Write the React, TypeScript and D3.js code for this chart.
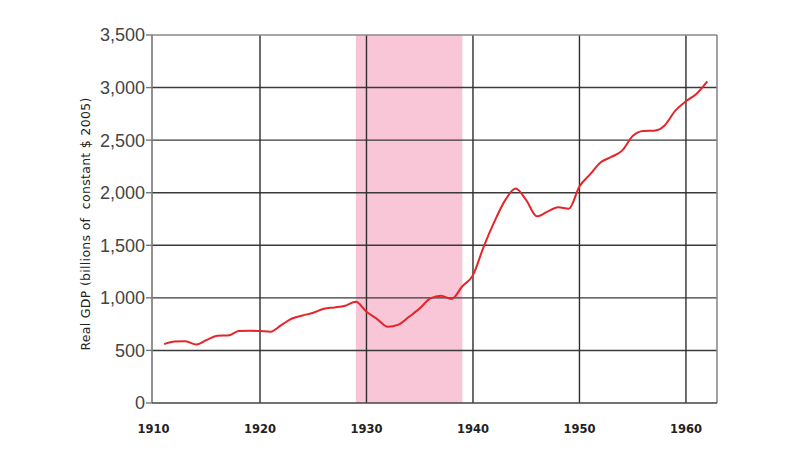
import React from "react";
import * as d3 from "d3";

const years: number[] = [
  1911, 1912, 1913, 1914, 1915, 1916, 1917, 1918, 1919, 1920,
  1921, 1922, 1923, 1924, 1925, 1926, 1927, 1928, 1929, 1930,
  1931, 1932, 1933, 1934, 1935, 1936, 1937, 1938, 1939, 1940,
  1941, 1942, 1943, 1944, 1945, 1946, 1947, 1948, 1949, 1950,
  1951, 1952, 1953, 1954, 1955, 1956, 1957, 1958, 1959, 1960,
  1961, 1962,
];
const gdp: number[] = [
  560, 585, 588, 556, 600, 640, 642, 684, 688, 684,
  678, 741, 804, 833, 858, 896, 909, 925, 962, 868,
  798, 725, 745, 820, 900, 995, 1020, 990, 1110, 1216,
  1485, 1722, 1925, 2040, 1930, 1775, 1820, 1862, 1848, 2060,
  2175, 2290, 2340, 2400, 2540, 2588, 2590, 2640, 2780, 2870,
  2942, 3060,
];
const yTicks: number[] = [0, 500, 1000, 1500, 2000, 2500, 3000, 3500];
const xTicks: number[] = [1910, 1920, 1930, 1940, 1950, 1960];
const recession: number[] = [1929, 1939];
const yLabel = "Real GDP (billions of  constant $ 2005)";

const W = 800;
const H = 462;
const left = 152;
const right = 717;
const top = 35;
const bottom = 403;

export default function App() {
  const x = d3.scaleLinear().domain([1910, 1963]).range([153.5, 717.9]);
  const y = d3.scaleLinear().domain([0, 3500]).range([bottom, top]);
  const data = years.map((yr, i) => [yr, gdp[i]] as [number, number]);
  const line = d3
    .line<[number, number]>()
    .x((d) => x(d[0]))
    .y((d) => y(d[1]))
    .curve(d3.curveMonotoneX);

  return (
    <svg
      width={W}
      height={H}
      style={{ position: "absolute", left: 0, top: 0, background: "#fff" }}
    >
      <rect x={0} y={0} width={W} height={H} fill="#fff" />
      {/* recession shading */}
      <rect
        x={x(recession[0])}
        y={top}
        width={x(recession[1]) - x(recession[0])}
        height={bottom - top}
        fill="#f8c6d6"
      />
      {/* horizontal gridlines */}
      {yTicks
        .filter((t) => t > 0 && t < 3500)
        .map((t) => (
          <line
            key={"h" + t}
            x1={left}
            x2={right}
            y1={y(t)}
            y2={y(t)}
            stroke="#3a3a3a"
            strokeWidth={1.4}
          />
        ))}
      {/* vertical gridlines */}
      {xTicks
        .filter((t) => t > 1910)
        .map((t) => (
          <line
            key={"v" + t}
            x1={x(t)}
            x2={x(t)}
            y1={top}
            y2={bottom}
            stroke="#2e2e2e"
            strokeWidth={1.4}
          />
        ))}
      {/* frame */}
      <line x1={left} x2={right} y1={top} y2={top} stroke="#8a8a8a" strokeWidth={1.6} />
      <line x1={right} x2={right} y1={top} y2={bottom} stroke="#8a8a8a" strokeWidth={1.6} />
      <line x1={left} x2={left} y1={top} y2={bottom} stroke="#777" strokeWidth={1.6} />
      <line x1={left} x2={right} y1={bottom} y2={bottom} stroke="#444" strokeWidth={1.6} />
      {/* y ticks and labels */}
      {yTicks.map((t) => (
        <g key={"yt" + t}>
          <line x1={left - 6} x2={left} y1={y(t)} y2={y(t)} stroke="#777" strokeWidth={1.4} />
          <text
            x={left - 7}
            y={y(t)}
            dy="0.36em"
            textAnchor="end"
            fontFamily="'Liberation Sans', Arial, sans-serif"
            fontSize={18}
            fill="#444"
          >
            {d3.format(",")(t)}
          </text>
        </g>
      ))}
      {/* x labels */}
      {xTicks.map((t) => (
        <text
          key={"xt" + t}
          x={x(t)}
          y={433}
          textAnchor="middle"
          fontFamily="'DejaVu Sans', sans-serif"
          fontWeight="bold"
          fontSize={11.5}
          fill="#222"
        >
          {t}
        </text>
      ))}
      {/* y axis title */}
      <text
        transform={`translate(90,224) rotate(-90)`}
        textAnchor="middle"
        fontFamily="'DejaVu Sans', sans-serif"
        fontSize={12.5}
        letterSpacing={0.3}
        fill="#222"
        style={{ whiteSpace: "pre" }}
      >
        {yLabel}
      </text>
      {/* data line */}
      <path d={line(data) || ""} fill="none" stroke="#e5252a" strokeWidth={2} strokeLinejoin="round" />
    </svg>
  );
}
